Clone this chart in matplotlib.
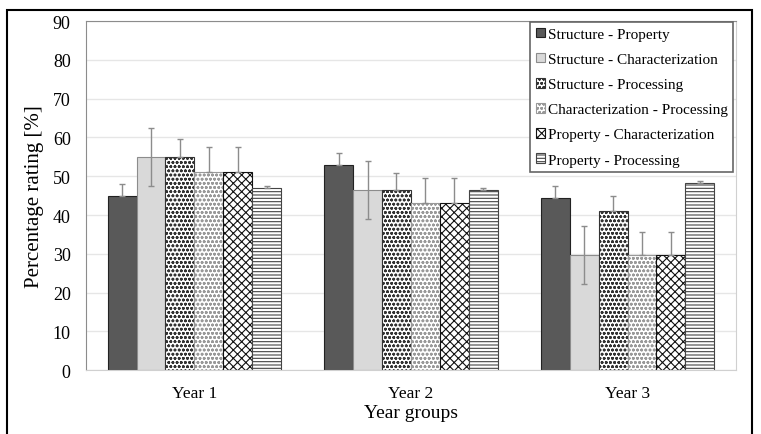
import numpy as np
import matplotlib.pyplot as plt
from matplotlib.patches import Rectangle

# data
years = ["Year 1", "Year 2", "Year 3"]
series = ["Structure - Property", "Structure - Characterization", "Structure - Processing",
          "Characterization - Processing", "Property - Characterization", "Property - Processing"]
values = [
    [45.0, 53.0, 44.5],
    [55.0, 46.5, 29.7],
    [55.0, 46.5, 41.0],
    [51.0, 43.0, 29.7],
    [51.0, 43.0, 29.7],
    [47.0, 46.5, 48.3],
]
err_up = [
    [3.0, 3.0, 3.0],
    [7.5, 7.5, 7.5],
    [4.5, 4.3, 4.0],
    [6.5, 6.5, 6.0],
    [6.5, 6.5, 6.0],
    [0.5, 0.5, 0.5],
]
err_down = [
    [0, 0, 0],
    [7.5, 7.5, 7.5],
    [0, 0, 0],
    [0, 0, 0],
    [0, 0, 0],
    [0, 0, 0],
]

plt.rcParams["font.family"] = ["Liberation Serif", "DejaVu Serif"]
plt.rcParams["hatch.linewidth"] = 0.8

styles = [
    dict(facecolor="#595959", edgecolor="#222222", hatch=None),
    dict(facecolor="#d9d9d9", edgecolor="#8c8c8c", hatch=None),
    dict(facecolor="white", edgecolor="#333333", hatch="oooo"),
    dict(facecolor="white", edgecolor="#999999", hatch="oooo"),
    dict(facecolor="white", edgecolor="#111111", hatch="xxxx"),
    dict(facecolor="white", edgecolor="#444444", hatch="-----"),
]

fig = plt.figure(figsize=(7.61, 4.35), dpi=100)
ax = fig.add_axes([0.113, 0.147, 0.854, 0.802])

# outer black frame
fig.patches.append(Rectangle((7 / 761, -0.01), 745 / 761, 1 - 11 / 435 + 0.01,
                             transform=fig.transFigure, fill=False,
                             edgecolor="black", linewidth=1.5))

x = np.arange(len(years))
w = 0.8 / len(series)
for i, name in enumerate(series):
    pos = x - 0.4 + w * (i + 0.5)
    st = styles[i]
    ax.bar(pos, values[i], w, label=name, facecolor=st["facecolor"],
           edgecolor=st["edgecolor"], hatch=st["hatch"], linewidth=0.8, zorder=2)
    ax.errorbar(pos, values[i], yerr=[err_down[i], err_up[i]], fmt="none",
                ecolor="#8c8c8c", elinewidth=1.0, capsize=2.5, capthick=1.0, zorder=3)

ax.set_xlim(-0.5, 2.5)
ax.set_ylim(0, 90)
ax.set_yticks(range(0, 91, 10))
ax.set_xticks(x)
ax.set_xticklabels(years, fontsize=12.5)
ax.tick_params(axis="y", labelsize=13, length=0, pad=11)
ax.tick_params(axis="x", length=0, pad=11)
ax.grid(axis="y", color="#e6e6e6", linewidth=1, zorder=0)
ax.set_axisbelow(True)
for s in ax.spines.values():
    s.set_color("#d0d0d0")
ax.spines["left"].set_color("#8c8c8c")
ax.spines["top"].set_color("#8c8c8c")

ax.set_ylabel("Percentage rating [%]", fontsize=15, labelpad=6)
ax.set_xlabel("Year groups", fontsize=14, labelpad=2)

leg = ax.legend(loc="upper right", bbox_to_anchor=(0.996, 0.997), borderaxespad=0,
                fontsize=11, handlelength=0.6, handleheight=0.6, handletextpad=0.2,
                labelspacing=0.78, fancybox=False, framealpha=1, borderpad=0.35)
leg.get_frame().set_edgecolor("#666666")
leg.get_frame().set_linewidth(1.2)

fig.savefig("out.png", dpi=100)
